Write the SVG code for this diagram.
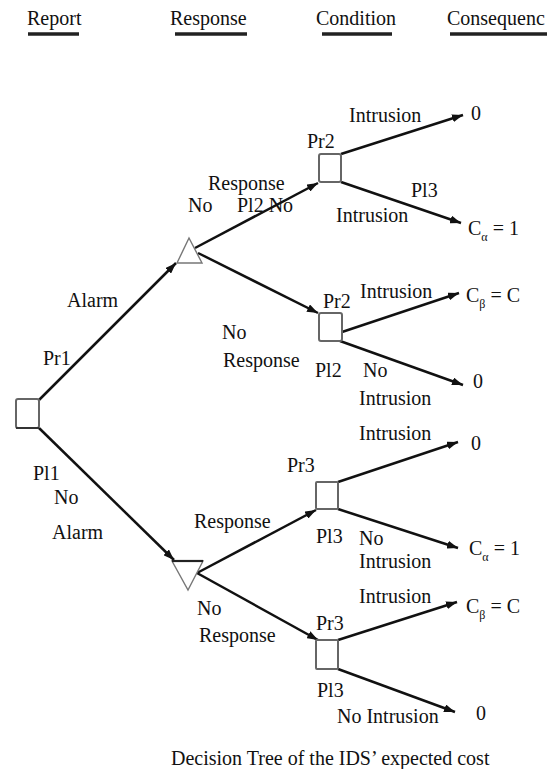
<svg xmlns="http://www.w3.org/2000/svg" width="547" height="769" viewBox="0 0 547 769">
<style>
text{font-family:"Liberation Serif","Times New Roman",serif;font-size:20px;fill:#111}
.sub{font-size:12px}
.hdr{stroke:#222;stroke-width:3.5}
.edge{stroke:#111;stroke-width:2.5;fill:none;marker-end:url(#arr)}
.box{fill:#fff;stroke:#666;stroke-width:2}
.tri{fill:#fff;stroke:#777;stroke-width:1.4}
</style>
<defs>
<marker id="arr" markerUnits="userSpaceOnUse" markerWidth="11" markerHeight="8" refX="11" refY="4" orient="auto">
<path d="M0,0 L11,4 L0,8 z" fill="#111"/>
</marker>
</defs>
<rect width="547" height="769" fill="#fff"/>
<g id="headers">
<text x="27" y="25">Report</text>
<text x="170" y="25">Response</text>
<text x="316" y="25">Condition</text>
<text x="447" y="25">Consequenc</text>
<line class="hdr" x1="28" y1="34" x2="79" y2="34"/>
<line class="hdr" x1="175" y1="34" x2="247" y2="34"/>
<line class="hdr" x1="322" y1="34" x2="392" y2="34"/>
<line class="hdr" x1="450" y1="34" x2="547" y2="34"/>
</g>
<g id="connectors">
<line class="edge" x1="39" y1="400" x2="176" y2="263"/>
<line class="edge" x1="39" y1="428" x2="174" y2="560"/>
<line class="edge" x1="195" y1="248" x2="318" y2="183"/>
<line class="edge" x1="198" y1="253" x2="318" y2="313"/>
<line class="edge" x1="341" y1="154" x2="463" y2="115"/>
<line class="edge" x1="341" y1="182" x2="461" y2="223"/>
<line class="edge" x1="342" y1="332" x2="459" y2="293"/>
<line class="edge" x1="340" y1="341" x2="463" y2="385"/>
<line class="edge" x1="197" y1="573" x2="316" y2="510"/>
<line class="edge" x1="197" y1="573" x2="318" y2="640"/>
<line class="edge" x1="338" y1="482" x2="458" y2="442"/>
<line class="edge" x1="338" y1="509" x2="458" y2="548"/>
<line class="edge" x1="338" y1="640" x2="457" y2="602"/>
<line class="edge" x1="338" y1="669" x2="455" y2="712"/>
</g>
<g id="root"><rect class="box" x="16" y="399" width="23" height="29" rx="2"/><line x1="16" y1="428" x2="39" y2="428" stroke="#333" stroke-width="2"/></g>
<g id="resp-alarm"><polygon class="tri" points="189,238 177,263 202,263"/></g>
<g id="resp-noalarm"><polygon class="tri" points="172,561 203,561 188,590"/><line x1="172" y1="561" x2="203" y2="561" stroke="#222" stroke-width="2.2"/></g>
<g id="cond-1"><rect class="box" x="319" y="154" width="22" height="28" rx="2"/></g>
<g id="cond-2"><rect class="box" x="319" y="313" width="23" height="28" rx="2"/></g>
<g id="cond-3"><rect class="box" x="316" y="482" width="22" height="27" rx="1"/></g>
<g id="cond-4"><rect class="box" x="316" y="640" width="22" height="29" rx="1"/></g>
<g id="labels">
<text x="349" y="122">Intrusion</text>
<text x="471" y="120">0</text>
<text x="307" y="148">Pr2</text>
<text x="208" y="190">Response</text>
<text x="188" y="212">No</text>
<text x="237" y="212">Pl2 No</text>
<text x="411" y="197">Pl3</text>
<text x="336" y="222">Intrusion</text>
<text x="468" y="235">C<tspan class="sub" dy="6">α</tspan><tspan dy="-6"> = 1</tspan></text>
<text x="67" y="307">Alarm</text>
<text x="43" y="365">Pr1</text>
<text x="323" y="308">Pr2</text>
<text x="360" y="298">Intrusion</text>
<text x="466" y="302">C<tspan class="sub" dy="6">β</tspan><tspan dy="-6"> = C</tspan></text>
<text x="222" y="339">No</text>
<text x="223" y="367">Response</text>
<text x="315" y="377">Pl2</text>
<text x="363" y="377">No</text>
<text x="359" y="405">Intrusion</text>
<text x="473" y="388">0</text>
<text x="359" y="440">Intrusion</text>
<text x="471" y="450">0</text>
<text x="287" y="472">Pr3</text>
<text x="33" y="480">Pl1</text>
<text x="54" y="504">No</text>
<text x="194" y="528">Response</text>
<text x="52" y="539">Alarm</text>
<text x="316" y="543">Pl3</text>
<text x="359" y="545">No</text>
<text x="469" y="555">C<tspan class="sub" dy="6">α</tspan><tspan dy="-6"> = 1</tspan></text>
<text x="359" y="568">Intrusion</text>
<text x="359" y="603">Intrusion</text>
<text x="466" y="613">C<tspan class="sub" dy="6">β</tspan><tspan dy="-6"> = C</tspan></text>
<text x="197" y="615">No</text>
<text x="316" y="630">Pr3</text>
<text x="199" y="642">Response</text>
<text x="317" y="697">Pl3</text>
<text x="476" y="720">0</text>
<text x="337" y="723">No Intrusion</text>
<text x="171" y="765">Decision Tree of the IDS’ expected cost</text>
</g>
</svg>
